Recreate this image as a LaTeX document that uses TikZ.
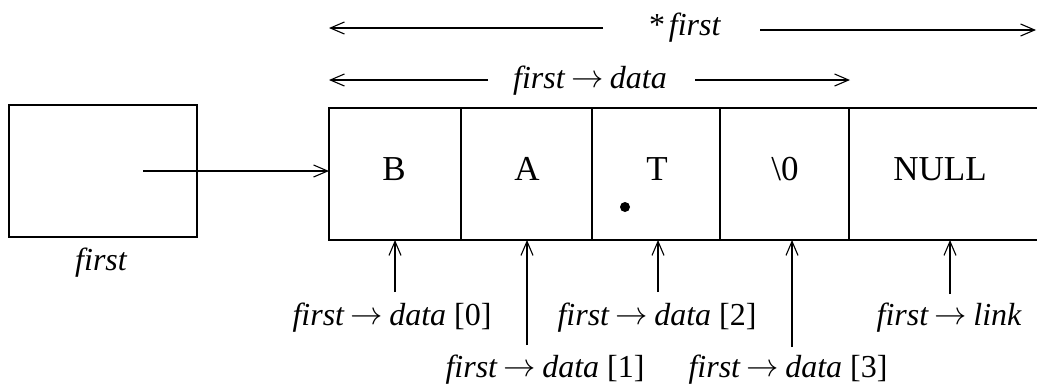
\documentclass[tikz,border=0pt]{standalone}
\usepackage{fontspec}
\usepackage{graphicx}
\setmainfont{Liberation Serif}
\usetikzlibrary{arrows.meta}
\newcommand{\rarr}{\hspace{0.2em}\raisebox{0.02em}{\scalebox{1.3}{$\rightarrow$}}\hspace{0.2em}}
\begin{document}
\begin{tikzpicture}[x=1pt,y=-1pt,
  cell/.style={draw, line width=1.1pt, minimum height=132pt, inner sep=0pt, outer sep=0pt, anchor=north west},
  ctext/.style={inner sep=0pt, anchor=base, font=\fontsize{35}{40}\selectfont},
  lbl/.style={inner sep=0pt, anchor=base, font=\fontsize{32}{38}\selectfont\itshape},
  arr/.style={line width=1.1pt, -{Straight Barb[length=14pt,width=12pt,line width=1.1pt]}},
  edge/.style={line width=1.1pt}]
\useasboundingbox (0,0) rectangle (1037,389);
% pointer variable box
\node[cell, minimum width=188pt, minimum height=132pt] (firstbox) at (9,105) {};
\node[lbl] (firstlbl) at (101,270) {first};
% cells
\node[cell, minimum width=132pt] (cB) at (329,108) {};
\node[cell, minimum width=131pt] (cA) at (461,108) {};
\node[cell, minimum width=128pt] (cT) at (592,108) {};
\node[cell, minimum width=129pt] (c0) at (720,108) {};
\node[cell, draw=none, minimum width=188pt] (cN) at (849,108) {};
\draw[edge] (cN.north east) -- (cN.north west) -- (cN.south west) -- (cN.south east);
% cell texts
\node[ctext] (tB) at (394,180) {B};
\node[ctext] (tA) at (527,180) {A};
\node[ctext] (tT) at (657,180) {T};
\node[ctext] (t0) at (785,180) {\textbackslash 0};
\node[ctext] (tN) at (940,180) {NULL};
\fill (625,207) circle (5pt);
% pointer arrow
\coordinate (pstart) at (143,171);
\draw[arr] (pstart) -- (pstart -| cB.west);
% top arrows
\node[lbl] (star) at (684,35) {*\,first};
\coordinate (sL) at (329,28);
\coordinate (sLa) at (603,28);
\coordinate (sRa) at (760,30);
\coordinate (sR) at (1036,30);
\draw[arr] (sLa) -- (sL);
\draw[arr] (sRa) -- (sR);
\node[lbl] (fd) at (590,88) {first\rarr data};
\coordinate (dL) at (329,80);
\coordinate (dLa) at (488,80);
\coordinate (dRa) at (695,80);
\coordinate (dR) at (850,80);
\draw[arr] (dLa) -- (dL);
\draw[arr] (dRa) -- (dR);
% bottom labels
\node[lbl] (l0) at (392,325) {first\rarr data {\upshape[0]}};
\node[lbl] (l1) at (545,377) {first\rarr data {\upshape[1]}};
\node[lbl] (l2) at (657,325) {first\rarr data {\upshape[2]}};
\node[lbl] (l3) at (788,377) {first\rarr data {\upshape[3]}};
\node[lbl] (lk) at (949,325) {first\rarr link};
\coordinate (a0) at (395,292);
\coordinate (a1) at (527,345);
\coordinate (a2) at (658,292);
\coordinate (a3) at (792,347);
\coordinate (ak) at (950,294);
\draw[arr] (a0) -- (a0 |- cB.south);
\draw[arr] (a1) -- (a1 |- cA.south);
\draw[arr] (a2) -- (a2 |- cT.south);
\draw[arr] (a3) -- (a3 |- c0.south);
\draw[arr] (ak) -- (ak |- cN.south);
\end{tikzpicture}
\end{document}
